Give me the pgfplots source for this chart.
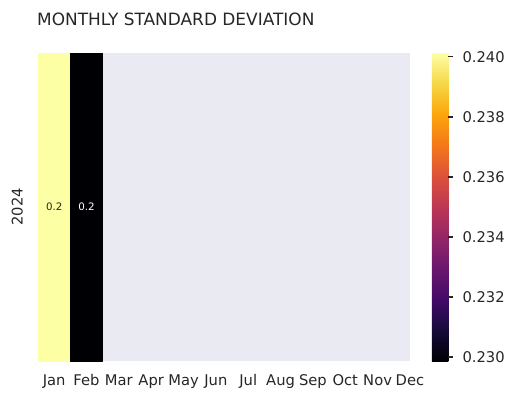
\documentclass[border=0pt]{standalone}
\usepackage{pgfplots}
\pgfplotsset{compat=1.18}
\usepackage{fontspec}
\setmainfont{DejaVu Sans}
\definecolor{txt}{HTML}{262626}
\definecolor{bggrey}{HTML}{EAEAF2}
\begin{document}
\begin{tikzpicture}
\useasboundingbox (0,0) rectangle (370.8pt,287.28pt);
\begin{axis}[
  at={(27.36pt,27.36pt)}, anchor=south west,
  scale only axis, width=267.8pt, height=221.8pt,
  xmin=0, xmax=11.5, ymin=0, ymax=1,
  enlargelimits=false,
  axis line style={draw=none},
  axis background/.style={fill=bggrey},
  major tick length=0pt,
  xtick={0.5,1.5,2.5,3.5,4.5,5.5,6.5,7.5,8.5,9.5,10.5,11.5},
  xticklabels={Jan,Feb,Mar,Apr,May,Jun,Jul,Aug,Sep,Oct,Nov,Dec},
  ytick={0.5}, yticklabels={2024},
  ticklabel style={font=\fontsize{10.6}{12}\selectfont, text=txt},
  xticklabel style={anchor=north, inner sep=0pt, text height=7.7pt, text depth=0pt, yshift=-10pt},
  yticklabel style={xshift=-10.8pt, rotate=90, anchor=south, inner sep=0pt},
  title={MONTHLY STANDARD DEVIATION},
  title style={at={(0,1)}, anchor=base west, inner sep=0pt, yshift=14pt, xshift=-0.8pt, font=\fontsize{12.2}{14}\selectfont, text=txt},
  colormap={inferno}{rgb255=(0,0,4) rgb255=(22,11,57) rgb255=(66,10,104) rgb255=(106,23,110) rgb255=(147,38,103) rgb255=(188,55,84) rgb255=(221,81,58) rgb255=(243,120,25) rgb255=(252,165,10) rgb255=(246,215,70) rgb255=(252,255,164)},
  point meta min=0.22987, point meta max=0.24013,
  colorbar,
  colorbar style={
    at={(parent axis.north east)}, anchor=north west, xshift=7.2pt,
    scale only axis, width=12pt, height=221.8pt,
    axis line style={draw=none},
    ytick pos=right,
    ytick={0.230,0.232,0.234,0.236,0.238,0.240},
    yticklabel style={/pgf/number format/.cd, fixed, fixed zerofill, precision=3, assume math mode=true, /tikz/.cd, anchor=west, inner sep=0pt, xshift=6.4pt, font=\fontsize{10.6}{12}\selectfont, text=txt},
    tick align=outside, major tick length=3.5pt,
    ytick style={draw=txt, line width=0.9pt},
  },
  /pgf/number format/assume math mode=true,
]
\addplot[patch, patch type=rectangle, shader=flat, point meta=explicit, draw=none] coordinates {
  (0,0) [0.24013] (1,0) [0.24013] (1,1) [0.24013] (0,1) [0.24013]
  (1,0) [0.22987] (2,0) [0.22987] (2,1) [0.22987] (1,1) [0.22987]
};
\addplot[draw=none, mark=none, nodes near coords, point meta=explicit symbolic,
  every node near coord/.style={anchor=center, font=\fontsize{7.4}{9}\selectfont, text=txt}] coordinates {(0.5,0.5) [0.2]};
\addplot[draw=none, mark=none, nodes near coords, point meta=explicit symbolic,
  every node near coord/.style={anchor=center, font=\fontsize{7.4}{9}\selectfont, text=white}] coordinates {(1.5,0.5) [0.2]};
\end{axis}
\end{tikzpicture}
\end{document}
